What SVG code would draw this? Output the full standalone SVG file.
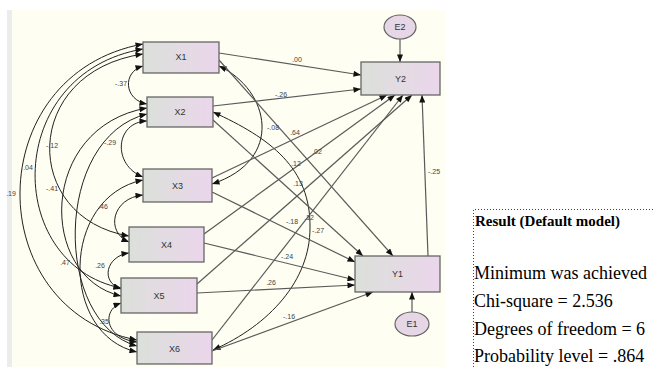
<svg xmlns="http://www.w3.org/2000/svg" width="653" height="367" viewBox="0 0 653 367">
<style>
.bx{stroke:#666;stroke-width:1.3;fill:url(#g)}
.el{stroke:#666;stroke-width:1.2;fill:#e6d6e6}
.nt{font-family:"Liberation Sans",Arial,sans-serif;font-size:9px;fill:#333;text-anchor:middle}
.lb{font-family:"Liberation Sans",Arial,sans-serif;font-size:7px;fill:#444;text-anchor:middle}
.rg{stroke:#5a5a5a;stroke-width:1.2;fill:none;marker-end:url(#ah)}
.cv{stroke:#222;stroke-width:1;fill:none;marker-start:url(#ah);marker-end:url(#ah)}
.rt{font-family:"Liberation Serif","Times New Roman",serif;font-size:18px;fill:#000}
</style>
<defs>
<linearGradient id="g" x1="0" y1="0" x2="1" y2="0">
<stop offset="0" stop-color="#dbe0da"/>
<stop offset="1" stop-color="#ebd6eb"/>
</linearGradient>
<marker id="ah" viewBox="0 0 10 8" refX="10" refY="4" markerWidth="9" markerHeight="6" markerUnits="userSpaceOnUse" orient="auto-start-reverse">
<path d="M0,0 L10,4 L0,8 z" fill="#111"/>
</marker>
</defs>
<rect x="0" y="0" width="653" height="367" fill="#fff"/>
<rect x="7" y="10" width="5" height="357" fill="#ececec"/>
<rect x="12" y="10" width="433" height="357" fill="#fefef2"/>

<g id="connectors">
<!-- left covariances -->
<path class="cv" d="M143,44 C-20,74 -20,310 137,340"/>
<path class="cv" d="M143,49 C3,73 3,264 121,288"/>
<path class="cv" d="M143,54 C21,72 21,218 129,236"/>
<path class="cv" d="M147,108 C38,127 38,277 121,296"/>
<path class="cv" d="M147,114 C53,137 53,323 137,346"/>
<path class="cv" d="M143,180 C60,197 60,335 137,352"/>
<path class="cv" d="M143,66 C122,72 124,100 147,104"/>
<path class="cv" d="M147,121 C115,122 112,165 143,177"/>
<path class="cv" d="M143,195 C112,198 105,232 129,242"/>
<path class="cv" d="M129,253 C106,256 100,282 121,289"/>
<path class="cv" d="M121,303 C102,310 104,338 137,342"/>
<!-- right covariances -->
<path class="cv" d="M219,66 C270,90 285,160 212,184"/>
<path class="cv" d="M213,112 C270,138 311,168 310,228 C310,280 270,325 213,350"/>
<!-- regressions -->
<path class="rg" d="M219,53 L361,75"/>
<path class="rg" d="M213,106 L361,89"/>
<path class="rg" d="M212,178 L387,95"/>
<path class="rg" d="M204,234 L395,95"/>
<path class="rg" d="M197,284 L412,95"/>
<path class="rg" d="M212,340 L403,95"/>
<path class="rg" d="M219,60 L393,256"/>
<path class="rg" d="M213,120 L363,256"/>
<path class="rg" d="M212,192 L355,262"/>
<path class="rg" d="M204,243 L355,280"/>
<path class="rg" d="M197,293 L355,285"/>
<path class="rg" d="M212,351 L373,292"/>
<path class="rg" d="M428,256 L422,95"/>
<path class="rg" d="M400,39 L400,62"/>
<path class="rg" d="M412,312 L412,292"/>
</g>

<g id="labels">
<text class="lb" x="297" y="62">.00</text>
<text class="lb" x="281" y="97">-.26</text>
<text class="lb" x="273" y="130">-.08</text>
<text class="lb" x="295" y="135">.64</text>
<text class="lb" x="317" y="154">.02</text>
<text class="lb" x="296" y="166">.12</text>
<text class="lb" x="298" y="186">.13</text>
<text class="lb" x="292" y="224">-.18</text>
<text class="lb" x="309" y="220">.12</text>
<text class="lb" x="318" y="233">-.27</text>
<text class="lb" x="287" y="259">-.24</text>
<text class="lb" x="271" y="285">.26</text>
<text class="lb" x="289" y="319">-.16</text>
<text class="lb" x="434" y="174">-.25</text>
<text class="lb" x="121" y="86">-.37</text>
<text class="lb" x="110" y="145">-.29</text>
<text class="lb" x="52" y="148">-.12</text>
<text class="lb" x="28" y="170">.04</text>
<text class="lb" x="52" y="191">-.41</text>
<text class="lb" x="11" y="196">.19</text>
<text class="lb" x="103" y="209">.46</text>
<text class="lb" x="100" y="268">.26</text>
<text class="lb" x="65" y="265">.47</text>
<text class="lb" x="104" y="324">.35</text>
</g>

<g id="X1"><rect class="bx" x="143" y="42" width="76" height="31"/><text class="nt" x="181" y="60">X1</text></g>
<g id="X2"><rect class="bx" x="147" y="97" width="66" height="30"/><text class="nt" x="180" y="115">X2</text></g>
<g id="X3"><rect class="bx" x="143" y="169" width="69" height="33"/><text class="nt" x="177.5" y="189">X3</text></g>
<g id="X4"><rect class="bx" x="129" y="227" width="75" height="35"/><text class="nt" x="166.5" y="248">X4</text></g>
<g id="X5"><rect class="bx" x="121" y="278" width="76" height="35"/><text class="nt" x="159" y="299">X5</text></g>
<g id="X6"><rect class="bx" x="137" y="332" width="75" height="32"/><text class="nt" x="174.5" y="352">X6</text></g>
<g id="Y2"><rect class="bx" x="361" y="62" width="79" height="33"/><text class="nt" x="400.5" y="82">Y2</text></g>
<g id="Y1"><rect class="bx" x="355" y="256" width="85" height="36"/><text class="nt" x="397.5" y="277">Y1</text></g>
<g id="E2"><ellipse class="el" cx="400" cy="27" rx="16" ry="12"/><text class="nt" x="400" y="30">E2</text></g>
<g id="E1"><ellipse class="el" cx="412" cy="324" rx="17" ry="12"/><text class="nt" x="412" y="327">E1</text></g>

<g id="result">
<path d="M473.5,367 L473.5,209.5 L653,209.5" fill="none" stroke="#444" stroke-width="1" stroke-dasharray="1,2"/>
<text x="475" y="226" font-family="'Liberation Serif','Times New Roman',serif" font-size="15px" font-weight="bold">Result (Default model)</text>
<text class="rt" x="474" y="279">Minimum was achieved</text>
<text class="rt" x="474" y="307">Chi-square = 2.536</text>
<text class="rt" x="474" y="335">Degrees of freedom = 6</text>
<text class="rt" x="474" y="362">Probability level = .864</text>
</g>
</svg>
